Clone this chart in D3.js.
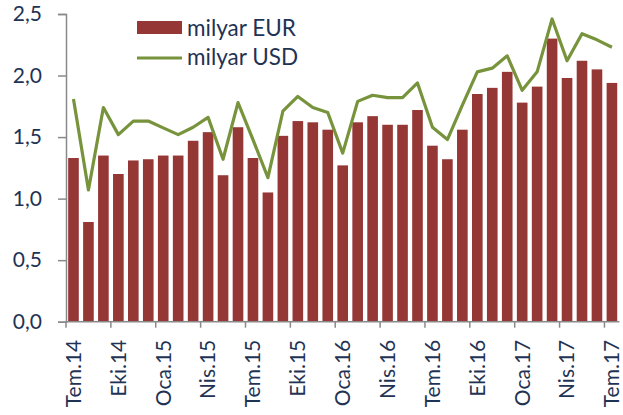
<!DOCTYPE html>
<html>
<head>
<meta charset="utf-8">
<script src="https://cdn.jsdelivr.net/npm/d3@7"></script>
<style>
    body { margin: 0; background: #fff; }
    svg { display: block; font-family: Lato, "Open Sans", sans-serif; }
</style>
</head>
<body>
<svg width="623" height="415"></svg>
<script>
// aylar (Tem.14 - Tem.17)
const months = [
    "Tem.14", "Ağu.14", "Eyl.14", "Eki.14", "Kas.14", "Ara.14",
    "Oca.15", "Şub.15", "Mar.15", "Nis.15", "May.15", "Haz.15",
    "Tem.15", "Ağu.15", "Eyl.15", "Eki.15", "Kas.15", "Ara.15",
    "Oca.16", "Şub.16", "Mar.16", "Nis.16", "May.16", "Haz.16",
    "Tem.16", "Ağu.16", "Eyl.16", "Eki.16", "Kas.16", "Ara.16",
    "Oca.17", "Şub.17", "Mar.17", "Nis.17", "May.17", "Haz.17",
    "Tem.17"
];

const eurValues = [
    1.33, 0.81, 1.35, 1.20, 1.31, 1.32, 1.35, 1.35, 1.47, 1.54, 1.19, 1.58,
    1.33, 1.05, 1.51, 1.63, 1.62, 1.56, 1.27, 1.62, 1.67, 1.60, 1.60, 1.72,
    1.43, 1.32, 1.56, 1.85, 1.90, 2.03, 1.78, 1.91, 2.30, 1.98, 2.12, 2.05,
    1.94
];

const usdValues = [
    1.81, 1.07, 1.74, 1.52, 1.63, 1.63, 1.575, 1.52, 1.58, 1.66, 1.32, 1.78,
    1.48, 1.17, 1.71, 1.83, 1.74, 1.70, 1.37, 1.79, 1.84, 1.82, 1.82, 1.94,
    1.58, 1.48, 1.76, 2.03, 2.06, 2.16, 1.88, 2.03, 2.46, 2.12, 2.34, 2.29,
    2.23
];

const yTicks = [0, 0.5, 1.0, 1.5, 2.0, 2.5];
const seriesNames = ["milyar EUR", "milyar USD"];

const barColor = "#953735";
const lineColor = "#77933c";
const textColor = "#1f3354";
const axisColor = "#898989";

const svg = d3.select("svg");
const plot = { left: 66, right: 619.4, top: 14, bottom: 321.7 };

const x = d3.scaleBand()
    .domain(months)
    .range([plot.left, plot.right])
    .paddingInner(0.29)
    .paddingOuter(0.145);
const y = d3.scaleLinear().domain([0, 2.5]).range([plot.bottom, plot.top]);

const data = months.map((m, i) => ({ name: m, eur: eurValues[i], usd: usdValues[i] }));

// sütunlar
svg.append("g").selectAll("rect")
    .data(data)
    .enter().append("rect")
    .attr("x", d => x(d.name))
    .attr("y", d => y(d.eur))
    .attr("width", x.bandwidth())
    .attr("height", d => y(0) - y(d.eur))
    .attr("fill", barColor);

// USD çizgisi
const line = d3.line()
    .x(d => x(d.name) + x.bandwidth() / 2)
    .y(d => y(d.usd));

svg.append("path")
    .datum(data)
    .attr("d", line)
    .attr("fill", "none")
    .attr("stroke", lineColor)
    .attr("stroke-width", 3.2)
    .attr("stroke-linejoin", "round");

// y ekseni
const yAxis = svg.append("g")
    .attr("transform", `translate(${plot.left},0)`)
    .call(d3.axisLeft(y)
        .tickValues(yTicks)
        .tickSize(8)
        .tickPadding(16)
        .tickFormat(d => d3.format(".1f")(d).replace(".", ",")));
yAxis.select(".domain").attr("stroke", axisColor).attr("stroke-width", 1.5);
yAxis.selectAll(".tick line").attr("stroke", axisColor).attr("stroke-width", 1.5);
yAxis.selectAll(".tick text")
    .attr("fill", textColor)
    .style("font-size", "21px")
    .style("font-family", "Lato, sans-serif");

// x ekseni
const gap = x.step() - x.bandwidth();
const labelled = months.filter((m, i) => i % 3 === 0);
const xAxis = svg.append("g");
xAxis.append("line")
    .attr("x1", plot.left).attr("x2", plot.right)
    .attr("y1", plot.bottom).attr("y2", plot.bottom)
    .attr("stroke", axisColor).attr("stroke-width", 1.5);
xAxis.selectAll(".tk")
    .data(labelled)
    .enter().append("line")
    .attr("x1", d => x(d) - gap / 2)
    .attr("x2", d => x(d) - gap / 2)
    .attr("y1", plot.bottom).attr("y2", plot.bottom + 6)
    .attr("stroke", axisColor).attr("stroke-width", 1.5);
xAxis.selectAll(".lbl")
    .data(labelled)
    .enter().append("text")
    .attr("transform", d => `translate(${x(d) + x.bandwidth() / 2},${plot.bottom + 18}) rotate(-90)`)
    .attr("dy", "0.35em")
    .attr("text-anchor", "end")
    .attr("fill", textColor)
    .style("font-size", "21px")
    .text(d => d);

// lejant
const legend = svg.append("g");
legend.append("rect")
    .attr("x", 137).attr("y", 21)
    .attr("width", 45).attr("height", 13)
    .attr("fill", barColor);
legend.append("line")
    .attr("x1", 137).attr("x2", 182)
    .attr("y1", 58).attr("y2", 58)
    .attr("stroke", lineColor).attr("stroke-width", 3.2);
legend.selectAll("text")
    .data(seriesNames)
    .enter().append("text")
    .attr("x", 187)
    .attr("y", (d, i) => 36 + i * 29)
    .attr("fill", textColor)
    .style("font-size", "22.5px")
    .text(d => d);
</script>
</body>
</html>
